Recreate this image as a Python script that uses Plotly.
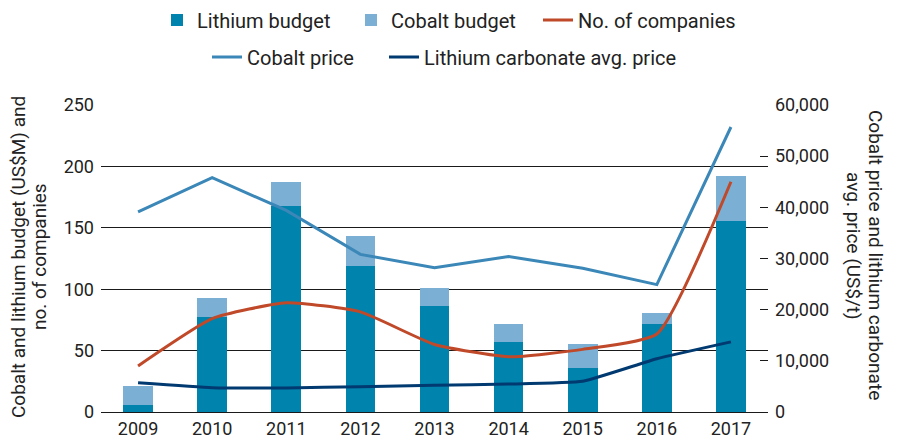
import plotly.graph_objects as go

years = ["2009", "2010", "2011", "2012", "2013", "2014", "2015", "2016", "2017"]
lithium_budget = [6, 77.5, 168, 118.5, 86.5, 57, 36, 72, 155.5]
cobalt_budget = [15, 15, 19, 25, 14.5, 14.5, 19.5, 9, 36.5]
num_companies = [37.5, 76, 89, 81.5, 55, 45, 51, 63.5, 187.5]
cobalt_price = [39100, 45800, 39400, 30800, 28200, 30400, 28100, 24900, 55700]
lithium_carbonate_price = [5700, 4750, 4700, 4950, 5250, 5450, 6000, 10400, 13700]

left_ticks = [0, 50, 100, 150, 200, 250]
right_ticks = [0, 10000, 20000, 30000, 40000, 50000, 60000]

FONT = "Roboto"
TXT = "#222222"
OFF = 8  # page body margin offset
W, H = 905 - OFF, 439 - OFF
L, R, T, B = 101 - OFF, 137, 105 - OFF, 27
PW, PH = W - L - R, H - T - B


def px_x(x):
    return (x - OFF - L) / PW


def px_y(y):
    return (H - B - (y - OFF)) / PH


fig = go.Figure()
fig.add_trace(go.Bar(x=years, y=lithium_budget, name="Lithium budget",
                     marker=dict(color="#0083AD", line=dict(width=0)), width=0.4, legend="legend"))
fig.add_trace(go.Bar(x=years, y=cobalt_budget, name="Cobalt budget",
                     marker=dict(color="#7BAFD4", line=dict(width=0)), width=0.4, legend="legend2"))
fig.add_trace(go.Scatter(x=years, y=num_companies, name="No. of companies", mode="lines",
                         line=dict(color="#C0492A", width=3, shape="spline", smoothing=0.5),
                         legend="legend3"))
fig.add_trace(go.Scatter(x=years, y=cobalt_price, name="Cobalt price", mode="lines", yaxis="y2",
                         line=dict(color="#3A87B8", width=3), legend="legend4"))
fig.add_trace(go.Scatter(x=years, y=lithium_carbonate_price, name="Lithium carbonate avg. price",
                         mode="lines", yaxis="y2",
                         line=dict(color="#003A70", width=3, shape="spline", smoothing=0.4),
                         legend="legend5"))

title_font = dict(family=FONT, size=19, color=TXT)


def leg(text_x, center_y):
    return dict(orientation="h", xref="container", yref="container",
                x=(text_x - OFF - 40) / W, xanchor="left",
                y=1 - (center_y - OFF) / H, yanchor="middle", font=dict(size=20, color=TXT),
                itemwidth=30, bgcolor="rgba(0,0,0,0)")


fig.update_layout(
    width=W, height=H, autosize=False,
    margin=dict(l=L, r=R, t=T, b=B, autoexpand=False),
    barmode="stack",
    plot_bgcolor="white", paper_bgcolor="white",
    font=dict(family=FONT, size=18, color=TXT),
    xaxis=dict(type="category", range=[-0.5, 8.5], showgrid=False, showline=False,
               ticks="", automargin=False, ticklabelstandoff=4,
               tickfont=dict(size=18, color=TXT)),
    yaxis=dict(range=[0, 250], tickvals=left_ticks, showgrid=True, gridcolor="#1a1a1a",
               gridwidth=1, zeroline=True, zerolinecolor="#1a1a1a", zerolinewidth=1,
               showline=False, ticks="", ticklabelstandoff=6, automargin=False,
               tickfont=dict(size=18, color=TXT)),
    yaxis2=dict(range=[0, 60000], tickvals=right_ticks, overlaying="y", side="right",
                showgrid=False, zeroline=False, showline=False, ticks="inside", ticklen=8,
                tickcolor="#1a1a1a", tickformat=",", ticklabelstandoff=6, automargin=False,
                tickfont=dict(size=18, color=TXT)),
    legend=leg(197, 20),
    legend2=leg(391, 20),
    legend3=leg(578, 20),
    legend4=leg(247, 57),
    legend5=leg(424, 57),
    showlegend=True,
    annotations=[
        dict(text="Cobalt and lithium budget (US$M) and", xref="paper", yref="paper",
             x=px_x(18), xanchor="center", y=px_y(257), yanchor="middle",
             textangle=-90, showarrow=False, font=title_font),
        dict(text="no. of companies", xref="paper", yref="paper",
             x=px_x(39), xanchor="center", y=px_y(257), yanchor="middle",
             textangle=-90, showarrow=False, font=title_font),
        dict(text="Cobalt price and lithium carbonate", xref="paper", yref="paper",
             x=px_x(876), xanchor="center", y=px_y(255), yanchor="middle",
             textangle=90, showarrow=False, font=title_font),
        dict(text="avg. price (US$/t)", xref="paper", yref="paper",
             x=px_x(854), xanchor="center", y=px_y(246), yanchor="middle",
             textangle=90, showarrow=False, font=title_font),
    ],
)

fig.write_html("out.html")
